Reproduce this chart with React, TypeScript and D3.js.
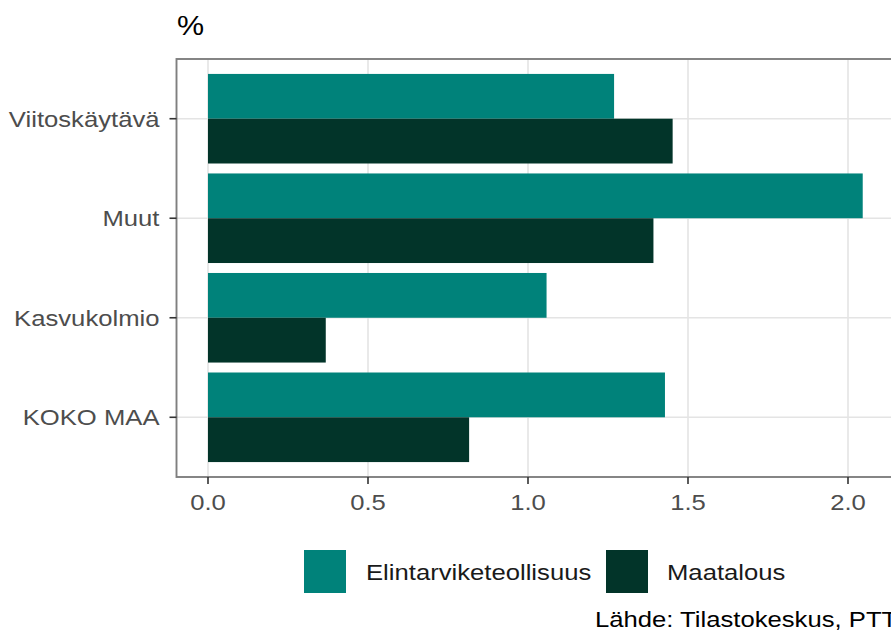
import React from "react";
import * as d3 from "d3";

const categories = ["Viitoskäytävä", "Muut", "Kasvukolmio", "KOKO MAA"];
const elintarvike = [1.269, 2.046, 1.058, 1.428];
const maatalous = [1.452, 1.392, 0.368, 0.816];
const xTicks = [0, 0.5, 1.0, 1.5, 2.0];
const seriesNames = ["Elintarviketeollisuus", "Maatalous"];
const seriesColors = ["#00827A", "#023429"];

const W = 891;
const H = 633;
const panel = { left: 176.5, top: 59, bottom: 477, right: 896 };
const SX = 1.13;
const FONT = "'Liberation Sans', Arial, sans-serif";

function T({ x, y, anchor = "start", size = 22.7, fill = "#4D4D4D", children }: any) {
  return (
    <g transform={`translate(${x},${y}) scale(${SX},1)`}>
      <text x={0} y={0} textAnchor={anchor} fontSize={size} fill={fill} fontFamily={FONT}>
        {children}
      </text>
    </g>
  );
}

export default function App() {
  const x = d3.scaleLinear().domain([-0.1, 2.15]).range([panel.left - 0.5, panel.right]);
  const yIdx = d3.scaleLinear().domain([-0.6, categories.length - 0.4]).range([panel.top, panel.bottom]);
  const step = yIdx(1) - yIdx(0);
  const half = step * 0.45;

  return (
    <svg width={W} height={H} style={{ position: "absolute", left: 0, top: 0, background: "#fff" }}>
      <rect x={0} y={0} width={W} height={H} fill="#fff" />
      {/* gridlines */}
      {xTicks.map((t) => (
        <line key={"gx" + t} x1={x(t)} x2={x(t)} y1={panel.top} y2={panel.bottom} stroke="#E4E4E4" strokeWidth={1.6} />
      ))}
      {categories.map((c, i) => (
        <line key={"gy" + c} x1={panel.left} x2={panel.right} y1={yIdx(i)} y2={yIdx(i)} stroke="#E4E4E4" strokeWidth={1.6} />
      ))}
      {/* bars */}
      {categories.map((c, i) => (
        <g key={"b" + c}>
          <rect x={x(0)} y={yIdx(i) - half} width={x(elintarvike[i]) - x(0)} height={half} fill={seriesColors[0]} />
          <rect x={x(0)} y={yIdx(i)} width={x(maatalous[i]) - x(0)} height={half} fill={seriesColors[1]} />
        </g>
      ))}
      {/* panel border */}
      <rect x={panel.left} y={panel.top} width={panel.right - panel.left} height={panel.bottom - panel.top} fill="none" stroke="#7F7F7F" strokeWidth={1.9} />
      {/* y axis ticks and labels */}
      {categories.map((c, i) => (
        <g key={"yl" + c}>
          <line x1={panel.left - 7} x2={panel.left} y1={yIdx(i)} y2={yIdx(i)} stroke="#333" strokeWidth={1.6} />
          <T x={panel.left - 17} y={yIdx(i) + 8} anchor="end">{c}</T>
        </g>
      ))}
      {/* x axis ticks and labels */}
      {xTicks.map((t) => (
        <g key={"xl" + t}>
          <line x1={x(t)} x2={x(t)} y1={panel.bottom} y2={panel.bottom + 7} stroke="#333" strokeWidth={1.6} />
          <T x={x(t)} y={510} anchor="middle">{d3.format(".1f")(t)}</T>
        </g>
      ))}
      {/* title */}
      <T x={177} y={35} size={27} fill="#000">%</T>
      {/* legend */}
      <rect x={304} y={550} width={42} height={43} fill={seriesColors[0]} />
      <T x={366} y={580} fill="#1A1A1A">{seriesNames[0]}</T>
      <rect x={606} y={550} width={42} height={43} fill={seriesColors[1]} />
      <T x={667} y={580} fill="#1A1A1A">{seriesNames[1]}</T>
      {/* caption */}
      <T x={595} y={627} fill="#000">Lähde: Tilastokeskus, PTT</T>
    </svg>
  );
}
